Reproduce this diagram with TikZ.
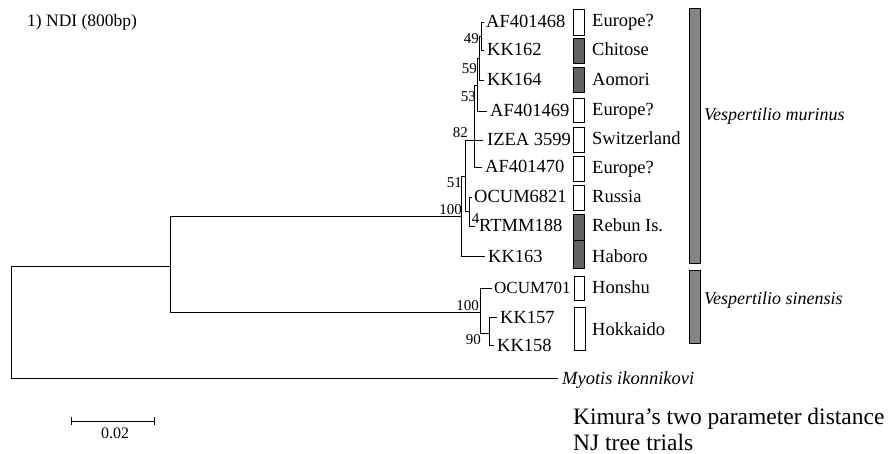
\documentclass[tikz,border=0pt]{standalone}
\usepackage{fontspec}
\setmainfont{Liberation Serif}
\definecolor{darkbox}{gray}{0.38}
\definecolor{barfill}{gray}{0.52}
\begin{document}
\begin{tikzpicture}[x=1pt,y=-1pt,
  br/.style={line width=0.8pt},
  leaf/.style={anchor=west,inner sep=0pt,text height=12pt,text depth=0pt,font=\fontsize{18.5}{20}\selectfont},
  boot/.style={inner sep=0pt,font=\fontsize{15}{16}\selectfont},
  wbox/.style={draw,line width=0.7pt,fill=white},
  dbox/.style={draw,line width=0.7pt,fill=darkbox},
  bar/.style={draw,line width=0.7pt,fill=barfill},
  spec/.style={anchor=west,inner sep=0pt,font=\fontsize{18}{20}\selectfont\itshape},
  ]
\useasboundingbox (0,0) rectangle (891,454);

% title
\node[anchor=west,inner sep=0pt,font=\fontsize{17.5}{20}\selectfont] (title) at (27,22) {1) NDI (800bp)};

% leaves
\node[leaf] (af468) at (486,22) {AF401468};
\node[leaf] (kk162) at (487,50) {KK162};
\node[leaf] (kk164) at (487,80) {KK164};
\node[leaf] (af469) at (490,111) {AF401469};
\node[leaf] (izea) at (487,140) {IZEA 3599};
\node[leaf] (af470) at (485,167) {AF401470};
\node[leaf] (ocum6821) at (474,197) {OCUM6821};
\node[leaf] (rtmm) at (479,226) {RTMM188};
\node[leaf] (kk163) at (488,256) {KK163};
\node[leaf,font=\fontsize{17}{20}\selectfont] (ocum701) at (494,288) {OCUM701};
\node[leaf] (kk157) at (500,317) {KK157};
\node[leaf] (kk158) at (497,345) {KK158};
\node[leaf,font=\fontsize{18.5}{20}\selectfont\itshape] (myo) at (562,378) {Myotis ikonnikovi};

% internal nodes
\coordinate (n49) at (481,36);
\coordinate (n59) at (479.5,58);
\coordinate (n53) at (477.5,85);
\coordinate (n82) at (474.5,140);
\coordinate (n14) at (469,211.5);
\coordinate (n51) at (465,176);
\coordinate (m) at (461,216);
\coordinate (s2) at (489,333);
\coordinate (s) at (480,312);
\coordinate (rt) at (170,266);
\coordinate (root) at (11,322);

% branches
\draw[br] (n49) |- ([xshift=-2pt]af468.west);
\draw[br] (n49) |- ([xshift=-3pt]kk162.west);
\draw[br] (n59) |- (n49);
\draw[br] (n59) |- ([xshift=-3pt]kk164.west);
\draw[br] (n53) |- (n59);
\draw[br] (n53) |- ([xshift=-3pt]af469.west);
\draw[br] (n82) |- (n53);
\draw[br] (n82) |- ([xshift=-4pt]izea.west);
\draw[br] (n82) |- ([xshift=-3pt]af470.west);
\draw[br] (n51) |- (n82);
\draw[br] (n51) |- (n14);
\draw[br] (n14) |- ([xshift=-2pt]ocum6821.west);
\draw[br] (n14) |- ([xshift=-4pt]rtmm.west);
\draw[br] (m) |- (n51);
\draw[br] (m) |- ([xshift=-3pt]kk163.west);
\draw[br] (s2) |- ([xshift=-3pt]kk157.west);
\draw[br] (s2) |- ([xshift=-3pt]kk158.west);
\draw[br] (s) |- ([xshift=-2pt]ocum701.west);
\draw[br] (s) |- (s2);
\draw[br] (rt) |- (m);
\draw[br] (rt) |- (s);
\draw[br] (root) |- (rt);
\draw[br] (root) |- ([xshift=-4pt]myo.west);

% bootstrap values
\node[boot,anchor=east] (b49) at (479,39) {49};
\node[boot,anchor=east] (b59) at (477,69) {59};
\node[boot,anchor=east] (b53) at (476,97) {53};
\node[boot,anchor=east] (b82) at (468,133) {82};
\node[boot,anchor=east] (b51) at (462,183) {51};
\node[boot,anchor=south east] (b100a) at (462,215) {100};
\node[boot] (b4) at (475.5,219) {4};
\node[boot,anchor=south east] (b100b) at (479,311) {100};
\node[boot,anchor=east] (b90) at (481,340) {90};

% location boxes
\draw[wbox] (573,9) rectangle (584,35);
\draw[dbox] (573,38) rectangle (584,63);
\draw[dbox] (573,67) rectangle (584,92);
\draw[wbox] (573,98) rectangle (584,122);
\draw[wbox] (573,127) rectangle (584,152);
\draw[wbox] (573,156) rectangle (584,181);
\draw[wbox] (573,185) rectangle (584,210);
\draw[dbox] (573,214) rectangle (584,240);
\draw[dbox] (573,240) rectangle (584,268);
\draw[wbox] (574,276) rectangle (584,300);
\draw[wbox] (574,307) rectangle (585,350);

% location labels
\node[leaf] (l1) at (592,21) {Europe?};
\node[leaf] (l2) at (592,50) {Chitose};
\node[leaf] (l3) at (592,80) {Aomori};
\node[leaf] (l4) at (592,110) {Europe?};
\node[leaf] (l5) at (592,139) {Switzerland};
\node[leaf] (l6) at (592,168) {Europe?};
\node[leaf] (l7) at (592,197) {Russia};
\node[leaf] (l8) at (592,226) {Rebun Is.};
\node[leaf] (l9) at (592,256) {Haboro};
\node[leaf] (l10) at (592,287) {Honshu};
\node[leaf] (l11) at (592,329) {Hokkaido};

% species bars
\draw[bar] (689,8) rectangle (700,263);
\draw[bar] (689,270) rectangle (700,343);
\node[spec] (sp1) at (704,116) {Vespertilio murinus};
\node[spec] (sp2) at (704,300) {Vespertilio sinensis};

% scale bar
\coordinate (sbl) at (71,421);
\coordinate (sbr) at (154,421);
\draw[br] (sbl) -- (sbr);
\draw[br] ([yshift=-4pt]sbl) -- ([yshift=4pt]sbl);
\draw[br] ([yshift=-4pt]sbr) -- ([yshift=4pt]sbr);
\node[inner sep=0pt,font=\fontsize{16}{18}\selectfont] (sbt) at (115,433) {0.02};

% caption
\node[anchor=west,inner sep=0pt,text height=16pt,text depth=0pt,font=\fontsize{23.5}{28}\selectfont] (k1) at (573,416) {Kimura’s two parameter distance};
\node[anchor=west,inner sep=0pt,text height=16pt,text depth=0pt,font=\fontsize{23.5}{28}\selectfont] (k2) at (573,442) {NJ tree trials};
\end{tikzpicture}
\end{document}
